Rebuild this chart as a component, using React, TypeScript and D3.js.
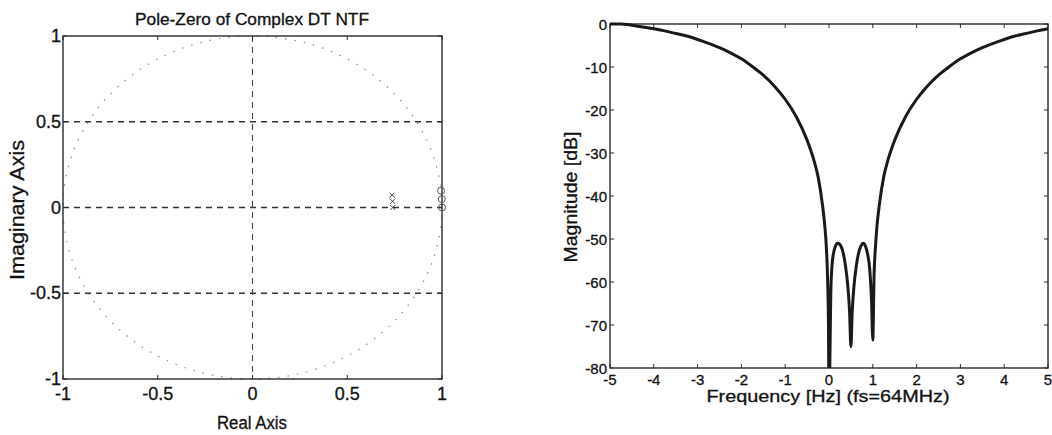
import React from "react";
import * as d3 from "d3";

// ---------- Data ----------
const poleRe = [0.74, 0.739, 0.736];
const poleIm = [0.0, 0.036, 0.072];
const zeroRe = [1.0, 0.9988, 0.995];
const zeroIm = [0.0, 0.049, 0.098];

const pzTicks = [-1, -0.5, 0, 0.5, 1];
const pzTickLabels = ["-1", "-0.5", "0", "0.5", "1"];
const pzHGrid = [0.5, 0, -0.5];
const pzVGrid = [0];

const freqs = [
  -5, -4.75, -4.5, -4.25, -4, -3.75, -3.5, -3.25, -3, -2.75, -2.5, -2.25, -2, -1.75, -1.5, -1.25, -1,
  -0.75, -0.5, -0.35, -0.25, -0.15, -0.1, -0.06, -0.03, -0.01, 0, 0.02, 0.04, 0.07, 0.1, 0.15, 0.2,
  0.27, 0.33, 0.38, 0.43, 0.47, 0.5, 0.53, 0.57, 0.62, 0.67, 0.73, 0.78, 0.83, 0.88, 0.93, 0.97, 1.0,
  1.03, 1.06, 1.1, 1.15, 1.25, 1.35, 1.5, 1.75, 2, 2.25, 2.5, 2.75, 3, 3.25, 3.5, 3.75, 4, 4.25, 4.5,
  4.75, 5,
];
const magDb = [
  0, 0, -0.3, -0.7, -1.1, -1.6, -2.2, -2.8, -3.6, -4.5, -5.5, -6.7, -8.1, -9.9, -11.9, -14.4, -17.5,
  -21.5, -27, -31.5, -35.5, -42, -46.5, -52, -60, -72, -100, -78, -63, -56, -53.5, -51.6, -51,
  -51.6, -53.5, -56.5, -61, -67, -75, -67, -61, -56.5, -53.5, -51.6, -51, -51.6, -53.5, -57, -64, -73.5,
  -58, -52, -46.5, -42, -35.5, -31.5, -27, -21.5, -17.5, -14.4, -11.9, -9.9, -8.1, -6.7, -5.5, -4.5,
  -3.6, -2.8, -2.2, -1.6, -1.1,
];

const fTicks = [-5, -4, -3, -2, -1, 0, 1, 2, 3, 4, 5];
const fTickLabels = ["-5", "-4", "-3", "-2", "-1", "0", "1", "2", "3", "4", "5"];
const dbTicks = [0, -10, -20, -30, -40, -50, -60, -70, -80];
const dbTickLabels = ["0", "-10", "-20", "-30", "-40", "-50", "-60", "-70", "-80"];

const FONT = "'Liberation Sans', Arial, Helvetica, sans-serif";

export default function App() {
  // Left: pole-zero plot
  const xL = d3.scaleLinear().domain([-1, 1]).range([63, 442]);
  const yL = d3.scaleLinear().domain([-1, 1]).range([379, 36]);
  // Right: magnitude plot
  const xR = d3.scaleLinear().domain([-5, 5]).range([610, 1048]);
  const yR = d3.scaleLinear().domain([-80, 0]).range([368, 24]);

  const magLine = d3
    .line<number>()
    .x((_, i) => xR(freqs[i]))
    .y((d) => yR(d))
    .curve(d3.curveMonotoneX)(magDb) as string;

  const tk = 4;
  const axisColor = "#2a2a2a";
  const txt = { fill: "#111", stroke: "#111", strokeWidth: 0.3 };

  return (
    <svg
      width={1052}
      height={435}
      style={{ position: "absolute", left: 0, top: 0, background: "#fff" }}
      fontFamily={FONT}
    >
      <defs>
        <clipPath id="clipR">
          <rect x={xR(-5)} y={yR(0) - 2} width={xR(5) - xR(-5)} height={yR(-80) - yR(0) + 2} />
        </clipPath>
      </defs>

      {/* ---------- LEFT: Pole-Zero ---------- */}
      <g>
        <ellipse
          cx={xL(0)}
          cy={yL(0)}
          rx={xL(1) - xL(0)}
          ry={yL(0) - yL(1)}
          fill="none"
          stroke="#8a8a8a"
          strokeWidth={1.2}
          strokeDasharray="1.5 8"
        />
        {pzHGrid.map((v) => (
          <line
            key={"h" + v}
            x1={xL(-1)}
            x2={xL(1)}
            y1={yL(v)}
            y2={yL(v)}
            stroke="#333"
            strokeWidth={1.3}
            strokeDasharray="6 5"
          />
        ))}
        {pzVGrid.map((v) => (
          <line
            key={"v" + v}
            x1={xL(v)}
            x2={xL(v)}
            y1={yL(1)}
            y2={yL(-1)}
            stroke="#444"
            strokeWidth={1.1}
            strokeDasharray="6 5"
          />
        ))}
        <rect
          x={xL(-1)}
          y={yL(1)}
          width={xL(1) - xL(-1)}
          height={yL(-1) - yL(1)}
          fill="none"
          stroke={axisColor}
          strokeWidth={1.4}
        />
        {pzTicks.map((t) => (
          <g key={"t" + t} stroke={axisColor} strokeWidth={1}>
            <line x1={xL(t)} x2={xL(t)} y1={yL(-1)} y2={yL(-1) - tk} />
            <line x1={xL(t)} x2={xL(t)} y1={yL(1)} y2={yL(1) + tk} />
            <line x1={xL(-1)} x2={xL(-1) + tk} y1={yL(t)} y2={yL(t)} />
            <line x1={xL(1)} x2={xL(1) - tk} y1={yL(t)} y2={yL(t)} />
          </g>
        ))}
        {poleRe.map((re, i) => (
          <g key={"p" + i} stroke="#444" strokeWidth={1}>
            <line x1={xL(re) - 2.5} x2={xL(re) + 2.5} y1={yL(poleIm[i]) - 2.5} y2={yL(poleIm[i]) + 2.5} />
            <line x1={xL(re) - 2.5} x2={xL(re) + 2.5} y1={yL(poleIm[i]) + 2.5} y2={yL(poleIm[i]) - 2.5} />
          </g>
        ))}
        {zeroRe.map((re, i) => (
          <circle key={"z" + i} cx={xL(re)} cy={yL(zeroIm[i])} r={3.5} fill="none" stroke="#555" strokeWidth={1} />
        ))}
        {pzTicks.map((t, i) => (
          <text key={"xl" + t} x={xL(t)} y={400} fontSize={18} textAnchor="middle" {...txt}>
            {pzTickLabels[i]}
          </text>
        ))}
        {pzTicks.map((t, i) => (
          <text key={"yl" + t} x={61} y={yL(t)} fontSize={18} textAnchor="end" dominantBaseline="central" {...txt}>
            {pzTickLabels[i]}
          </text>
        ))}
        <text x={252} y={25} fontSize={17} textAnchor="middle" {...txt} textLength={234} lengthAdjust="spacingAndGlyphs">
          Pole-Zero of Complex DT NTF
        </text>
        <text x={252} y={429} fontSize={18} textAnchor="middle" {...txt} textLength={70} lengthAdjust="spacingAndGlyphs">
          Real Axis
        </text>
        <text
          transform={`translate(24,${210}) rotate(-90)`}
          fontSize={20}
          textAnchor="middle"
          {...txt}
          textLength={140}
          lengthAdjust="spacingAndGlyphs"
        >
          Imaginary Axis
        </text>
      </g>

      {/* ---------- RIGHT: Magnitude ---------- */}
      <g>
        <rect
          x={xR(-5)}
          y={yR(0)}
          width={xR(5) - xR(-5)}
          height={yR(-80) - yR(0)}
          fill="none"
          stroke={axisColor}
          strokeWidth={1.4}
        />
        {fTicks.map((t) => (
          <g key={"ft" + t} stroke={axisColor} strokeWidth={1}>
            <line x1={xR(t)} x2={xR(t)} y1={yR(-80)} y2={yR(-80) - tk} />
            <line x1={xR(t)} x2={xR(t)} y1={yR(0)} y2={yR(0) + tk} />
          </g>
        ))}
        {dbTicks.map((t) => (
          <g key={"dt" + t} stroke={axisColor} strokeWidth={1}>
            <line x1={xR(-5)} x2={xR(-5) + tk} y1={yR(t)} y2={yR(t)} />
            <line x1={xR(5)} x2={xR(5) - tk} y1={yR(t)} y2={yR(t)} />
          </g>
        ))}
        <path d={magLine} fill="none" stroke="#1a1a1a" strokeWidth={3} strokeLinejoin="round" clipPath="url(#clipR)" />
        {fTicks.map((t, i) => (
          <text key={"fl" + t} x={xR(t)} y={385} fontSize={15} textAnchor="middle" {...txt}>
            {fTickLabels[i]}
          </text>
        ))}
        {dbTicks.map((t, i) => (
          <text key={"dl" + t} x={607} y={yR(t)} fontSize={15} textAnchor="end" dominantBaseline="central" {...txt}>
            {dbTickLabels[i]}
          </text>
        ))}
        <text x={828} y={402} fontSize={17} textAnchor="middle" {...txt} textLength={243} lengthAdjust="spacingAndGlyphs">
          Frequency [Hz] (fs=64MHz)
        </text>
        <text
          transform={`translate(577,${197}) rotate(-90)`}
          fontSize={18}
          textAnchor="middle"
          {...txt}
          textLength={131}
          lengthAdjust="spacingAndGlyphs"
        >
          Magnitude [dB]
        </text>
      </g>
    </svg>
  );
}
